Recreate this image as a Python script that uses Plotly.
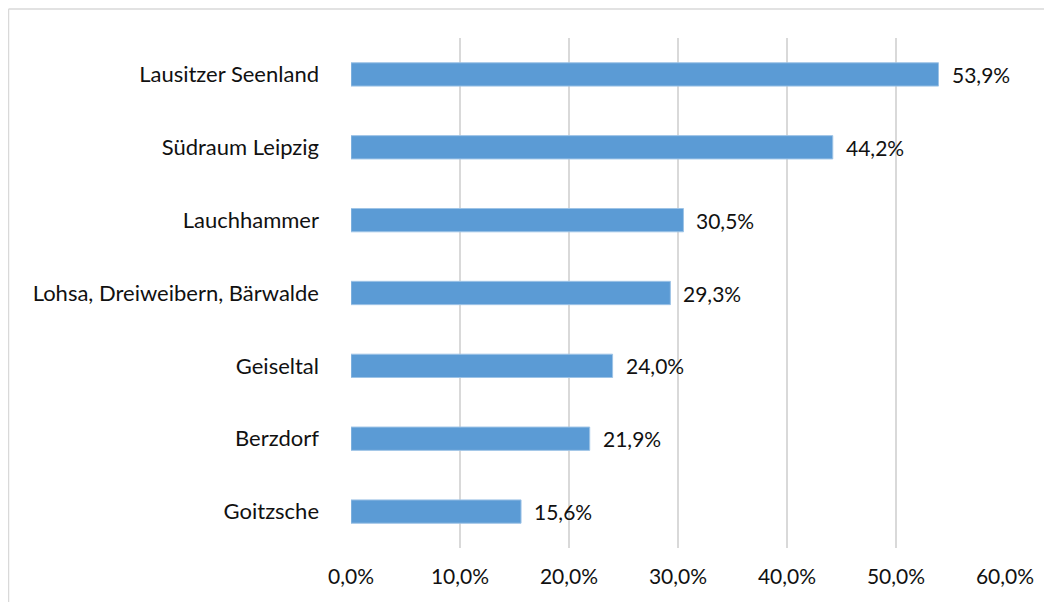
import plotly.graph_objects as go

categories = ["Lausitzer Seenland", "Südraum Leipzig", "Lauchhammer",
              "Lohsa, Dreiweibern, Bärwalde", "Geiseltal", "Berzdorf", "Goitzsche"]
values = [0.539, 0.442, 0.305, 0.293, 0.240, 0.219, 0.156]
x_ticks = [0, 0.1, 0.2, 0.3, 0.4, 0.5, 0.6]

FONT = "Lato"
FS = 22
L, T, PW, PH = 343, 30, 654, 510
W, H = 1052, 602
fig = go.Figure()
fig.add_trace(go.Bar(
    y=categories, x=values, orientation="h",
    marker=dict(color="#5B9BD5", line=dict(color="#9DC3E6", width=1)),
    width=0.32, hoverinfo="skip",
))
for c, v in zip(categories, values):
    fig.add_annotation(x=v, y=c, text=f"{v*100:.1f}%".replace(".", ","),
                       xanchor="left", showarrow=False, xshift=11,
                       font=dict(family=FONT, size=FS - 1, color="#111111"))

fig.update_layout(
    width=W, height=H,
    margin=dict(l=L, r=W - L - PW, t=T, b=H - T - PH),
    paper_bgcolor="white", plot_bgcolor="white",
    separators=",.",
    showlegend=False,
    font=dict(family=FONT, size=FS, color="#111111"),
    xaxis=dict(range=[0, 0.6], tickvals=x_ticks, tickformat=".1%",
               showgrid=True, gridcolor="#D9D9D9", gridwidth=2,
               zeroline=False, showline=False, ticks="", ticklabelstandoff=14,
               tickfont=dict(size=FS - 1), fixedrange=True),
    yaxis=dict(autorange="reversed", showgrid=False, zeroline=False,
               showline=False, ticks="", ticklabelstandoff=31, fixedrange=True),
    shapes=[
        dict(type="line", xref="paper", yref="paper",
             x0=(0.5 - L) / PW, x1=(W + 10 - L) / PW,
             y0=(T + PH - 1) / PH, y1=(T + PH - 1) / PH,
             line=dict(color="#D9D9D9", width=1.5)),
        dict(type="line", xref="paper", yref="paper",
             x0=(0.5 - L) / PW, x1=(0.5 - L) / PW,
             y0=(T + PH - 1) / PH, y1=-0.3,
             line=dict(color="#D9D9D9", width=1.5)),
    ],
)
fig.write_html("out.html")
